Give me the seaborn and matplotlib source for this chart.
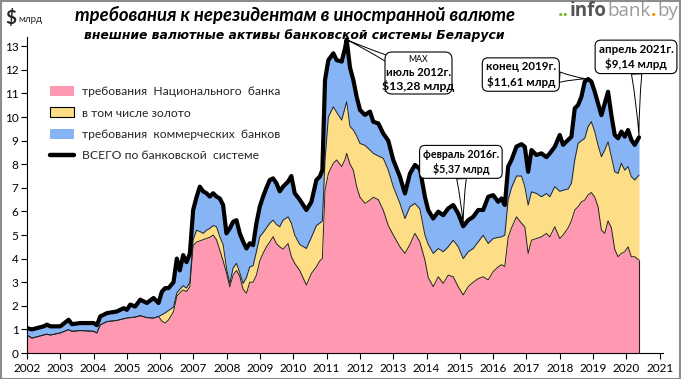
import numpy as np
import pandas as pd
import matplotlib
matplotlib.use("Agg")
import matplotlib.pyplot as plt
from matplotlib.patches import Patch, Rectangle, FancyBboxPatch
from matplotlib.lines import Line2D
from matplotlib.transforms import IdentityTransform
import seaborn as sns

# ---------------- data (x = position on the chart's year axis) ----------------
x_pos = [2002.0, 2002.15, 2002.5, 2002.6, 2002.7, 2003.0, 2003.25, 2003.35, 2003.6, 2004.0,
         2004.1, 2004.2, 2004.4, 2004.7, 2004.9, 2005.0, 2005.1, 2005.25, 2005.4, 2005.6,
         2005.8, 2005.95, 2006.05, 2006.15, 2006.25, 2006.4, 2006.5, 2006.59, 2006.69, 2006.79,
         2006.89, 2006.99, 2007.09, 2007.19, 2007.29, 2007.39, 2007.49, 2007.59, 2007.69, 2007.79,
         2007.89, 2007.99, 2008.09, 2008.19, 2008.29, 2008.39, 2008.49, 2008.59, 2008.69, 2008.79,
         2008.89, 2008.99, 2009.09, 2009.19, 2009.29, 2009.39, 2009.49, 2009.59, 2009.69, 2009.84,
         2009.94, 2010.04, 2010.19, 2010.39, 2010.54, 2010.69, 2010.79, 2010.87, 2010.95, 2011.05,
         2011.2, 2011.3, 2011.45, 2011.55, 2011.6, 2011.7, 2011.8, 2011.9, 2012.0, 2012.15,
         2012.3, 2012.4, 2012.55, 2012.7, 2012.85, 2013.0, 2013.2, 2013.35, 2013.5, 2013.65,
         2013.8, 2013.95, 2014.05, 2014.2, 2014.35, 2014.5, 2014.65, 2014.8, 2014.95, 2015.1,
         2015.25, 2015.4, 2015.55, 2015.7, 2015.85, 2016.0, 2016.15, 2016.25, 2016.35, 2016.45,
         2016.55, 2016.7, 2016.85, 2016.95, 2017.05, 2017.15, 2017.3, 2017.45, 2017.6, 2017.7,
         2017.85, 2018.0, 2018.1, 2018.25, 2018.35, 2018.45, 2018.55, 2018.65, 2018.75, 2018.85,
         2018.95, 2019.05, 2019.15, 2019.25, 2019.35, 2019.45, 2019.55, 2019.65, 2019.75, 2019.85,
         2019.95, 2020.05, 2020.15, 2020.25, 2020.38]

# claims of the National Bank excluding gold (pink)
nb_ex_gold = [0.76, 0.63, 0.76, 0.80, 0.76, 0.85, 0.99, 0.92, 0.95, 0.92,
              0.85, 1.19, 1.33, 1.38, 1.45, 1.48, 1.50, 1.52, 1.58, 1.50,
              1.48, 1.55, 1.35, 1.27, 1.40, 1.75, 2.40, 2.55, 2.67, 2.60,
              2.80, 4.55, 4.70, 4.75, 4.80, 4.85, 4.90, 5.00, 4.80, 4.36,
              3.90, 3.40, 2.80, 3.30, 3.50, 3.25, 2.70, 2.53, 3.00, 3.00,
              3.30, 3.90, 4.22, 4.50, 4.70, 4.93, 4.64, 4.50, 4.40, 4.64,
              4.08, 3.80, 3.50, 2.88, 3.37, 3.65, 3.90, 4.00, 6.90, 7.60,
              8.04, 8.18, 7.90, 8.20, 8.46, 8.00, 7.75, 7.05, 6.60, 6.34,
              6.48, 6.60, 6.50, 6.05, 5.40, 5.00, 4.50, 4.22, 4.60, 5.07,
              4.70, 3.94, 3.20, 2.81, 3.23, 2.95, 3.30, 3.23, 2.81, 2.46,
              2.81, 3.00, 3.15, 3.23, 3.10, 3.45, 3.65, 3.74, 3.67, 4.90,
              5.30, 5.77, 5.50, 5.35, 4.22, 4.78, 4.85, 4.92, 5.07, 4.92,
              5.35, 4.85, 5.00, 5.30, 5.60, 6.06, 6.20, 6.40, 6.48, 6.70,
              6.80, 6.60, 6.20, 5.21, 5.07, 5.60, 5.30, 4.40, 4.08, 4.22,
              4.29, 4.50, 4.08, 4.08, 3.94]

# claims of the National Bank including gold (top of yellow)
nb_total = [0.76, 0.63, 0.76, 0.80, 0.76, 0.85, 0.99, 0.92, 0.95, 0.92,
            0.85, 1.19, 1.33, 1.38, 1.45, 1.48, 1.50, 1.52, 1.58, 1.50,
            1.48, 1.55, 1.62, 1.70, 1.80, 1.95, 2.55, 2.70, 2.85, 2.75,
            3.00, 4.80, 5.20, 5.15, 5.07, 5.20, 5.28, 5.40, 5.35, 4.93,
            4.60, 3.60, 2.95, 3.60, 3.80, 3.40, 2.95, 3.20, 3.65, 3.70,
            4.30, 4.93, 5.10, 5.30, 5.50, 5.63, 5.45, 5.35, 5.63, 5.77,
            5.50, 5.00, 4.60, 4.43, 4.90, 5.40, 5.50, 5.60, 8.18, 10.00,
            10.43, 10.20, 9.87, 10.40, 10.65, 9.60, 9.45, 9.20, 8.88, 8.80,
            8.60, 8.46, 8.35, 8.25, 7.75, 7.05, 6.34, 5.70, 6.20, 6.34,
            6.10, 5.00, 4.60, 4.22, 4.43, 4.29, 4.50, 4.78, 4.50, 4.00,
            4.29, 4.43, 4.71, 4.99, 4.64, 4.85, 4.90, 4.92, 5.00, 6.50,
            7.00, 7.50, 7.50, 7.05, 6.27, 6.83, 6.76, 6.62, 6.76, 6.62,
            7.05, 6.85, 6.90, 6.95, 7.20, 8.18, 8.88, 9.00, 9.10, 9.59,
            9.80, 9.38, 8.80, 8.32, 8.60, 8.95, 8.32, 7.68, 7.61, 8.04,
            7.75, 7.90, 7.47, 7.33, 7.54]

# total for the banking system (black line)
system_total = [1.05, 1.00, 1.13, 1.20, 1.13, 1.13, 1.41, 1.22, 1.27, 1.27,
                1.18, 1.55, 1.69, 1.76, 1.90, 1.83, 2.05, 1.97, 2.26, 2.12,
                2.33, 2.12, 2.60, 2.75, 2.75, 3.00, 4.00, 3.50, 4.15, 3.85,
                4.20, 6.06, 6.60, 7.05, 6.85, 6.77, 6.63, 6.77, 6.63, 6.55,
                6.27, 5.07, 5.28, 5.56, 5.63, 5.07, 4.72, 4.43, 4.65, 4.57,
                5.50, 6.20, 6.63, 7.00, 7.33, 7.40, 7.20, 6.85, 7.05, 7.26,
                7.50, 6.77, 6.50, 6.06, 6.40, 7.33, 7.47, 7.75, 11.57, 12.41,
                12.70, 12.41, 12.35, 12.91, 13.28, 12.10, 11.57, 10.86, 10.30, 10.09,
                10.23, 9.80, 9.73, 9.30, 9.00, 8.18, 7.47, 6.76, 7.60, 7.97,
                7.80, 6.62, 6.05, 5.70, 5.99, 5.84, 6.13, 6.27, 5.91, 5.37,
                5.63, 5.77, 6.06, 6.06, 6.62, 6.69, 6.41, 6.55, 6.27, 7.90,
                8.18, 8.75, 8.85, 8.74, 7.68, 8.60, 8.39, 8.46, 8.30, 8.46,
                8.74, 9.24, 8.82, 9.03, 9.17, 10.37, 10.51, 10.86, 11.50, 11.61,
                11.50, 11.07, 10.57, 10.08, 10.57, 11.07, 10.08, 9.24, 9.10, 9.38,
                9.17, 9.45, 9.03, 8.82, 9.14]

year_ticks = list(range(2002, 2022))
value_ticks = list(range(0, 14))

legend_labels = ["требования  Национального  банка", "в том числе золото",
                 "требования  коммерческих  банков", "ВСЕГО по банковской  системе"]

callouts = [
    ("max", ["МАХ", "июль 2012г.", "$13,28 млрд"]),
    ("end2019", ["конец 2019г.", "$11,61 млрд"]),
    ("min", ["февраль 2016г.", "$5,37 млрд"]),
    ("last", ["апрель 2021г.", "$9,14 млрд"]),
]

df = pd.DataFrame({"x": x_pos, "nb_ex_gold": nb_ex_gold,
                   "nb_total": nb_total, "total": system_total})

# ---------------- style ----------------
sns.set_theme(style="ticks")
plt.rcParams["font.family"] = ["Lato", "DejaVu Sans"]
plt.rcParams["axes.linewidth"] = 0.8

PINK = "#FF99B1"
YELLOW = "#FDDD86"
BLUE = "#87B4F4"

W, H = 681, 379
fig = plt.figure(figsize=(W / 100, H / 100), dpi=100)
fig.patch.set_facecolor("white")
renderer = fig.canvas.get_renderer()

x0_px, x1_px = 27, 663
y_bot_px, y_top_px = 353, 36.8
ax = fig.add_axes([x0_px / W, 1 - y_bot_px / H, (x1_px - x0_px) / W, (y_bot_px - y_top_px) / H])

xs = df["x"].to_numpy()
p = df["nb_ex_gold"].to_numpy()
n = df["nb_total"].to_numpy()
t = df["total"].to_numpy()

ax.fill_between(xs, 0, p, color=PINK, lw=0, zorder=1)
ax.fill_between(xs, p, n, color=YELLOW, lw=0, zorder=1)
ax.fill_between(xs, n, t, color=BLUE, lw=0, zorder=1)
ax.plot(xs, p, color="#222222", lw=0.7, zorder=2)
ax.plot(xs, n, color="#222222", lw=0.7, zorder=2)
ax.vlines(xs[-1], 0, p[-1], color="#222222", lw=0.8, zorder=2)
sns.lineplot(data=df, x="x", y="total", ax=ax, color="black", lw=3.0,
             zorder=3, estimator=None, sort=False)

ax.set_xlim(2002, 2021.1)
ax.set_ylim(0, 13.4)
ax.set_xticks(year_ticks)
ax.set_xticklabels([str(y) for y in year_ticks])
ax.set_yticks(value_ticks)
ax.set_xlabel("")
ax.set_ylabel("")
ax.tick_params(axis="x", direction="out", length=4, width=0.8, labelsize=8.5,
               pad=3, colors="black")
ax.tick_params(axis="y", direction="out", length=4, width=0.8, labelsize=8.5,
               pad=2, colors="black")
for lab in ax.get_xticklabels() + ax.get_yticklabels():
    lab.set_color("black")
for s in ["top", "right"]:
    ax.spines[s].set_visible(False)
for s in ["left", "bottom"]:
    ax.spines[s].set_color("black")

# ---------------- legend ----------------
handles = [Patch(facecolor=PINK, edgecolor="none"),
           Patch(facecolor=YELLOW, edgecolor="black", lw=0.8),
           Patch(facecolor=BLUE, edgecolor="none"),
           Line2D([0], [0], color="black", lw=3.2)]
leg = ax.legend(handles, legend_labels, loc="upper left",
                bbox_to_anchor=(0.028, 0.86), frameon=False, fontsize=8.7,
                handlelength=2.0, handleheight=0.9, handletextpad=0.65,
                labelspacing=0.85, borderaxespad=0)

# ---------------- callouts ----------------
imax = int(np.argmax(t))
i2019 = int(np.argmax(np.where(xs > 2017, t, 0)))
imin = int(np.argmin(np.where((xs > 2014) & (xs < 2016), t, 99)))
ilast = len(t) - 1
targets = {"max": (xs[imax], t[imax]), "end2019": (xs[i2019], t[i2019]),
           "min": (xs[imin], t[imin]), "last": (xs[ilast], t[ilast])}
box_pos = {"max": (2013.74, 11.86), "end2019": (2016.83, 11.80),
           "min": (2015.03, 8.10), "last": (2020.29, 12.55)}
box_fs = {"end2019": 8.3, "min": 7.7, "last": 8.3}
wedge = dict(arrowstyle="wedge,tail_width=0.9,shrink_factor=0.35",
             fc="white", ec="black", lw=0.7, shrinkA=0, shrinkB=1)
for key, lines in callouts:
    if key == "max":
        # pointer only; box drawn as a separate rounded patch, lines overlaid
        ax.annotate("", xy=targets[key], xytext=box_pos[key],
                    arrowprops=wedge, zorder=5, annotation_clip=False)
        bx0, by0, bw, bh = 385, H - 94, 67, 42  # box in pixels (display coords)
        fig.patches.append(FancyBboxPatch((bx0, by0), bw, bh,
                                          boxstyle="round,pad=0,rounding_size=7",
                                          transform=IdentityTransform(),
                                          fc="white", ec="black", lw=0.8, zorder=5))
        cx = bx0 + bw / 2
        specs = [(H - 60, 6.3, "normal"), (H - 73, 8.2, "bold"), (H - 86, 8.8, "bold")]
        for line, (py, fs, wt) in zip(lines, specs):
            fig.text(cx / W, py / H, line, ha="center", va="center", fontsize=fs,
                     fontweight=wt, color="black", zorder=8)
    else:
        ax.annotate("\n".join(lines), xy=targets[key], xytext=box_pos[key],
                    ha="center", va="center", fontsize=box_fs[key], fontweight="bold",
                    linespacing=1.35, color="black", zorder=6,
                    bbox=dict(boxstyle="round,pad=0.3,rounding_size=0.5",
                              fc="white", ec="black", lw=0.8),
                    arrowprops=wedge, annotation_clip=False)


# ---------------- titles ----------------
def fitted_text(cx_px, cy_px, text, target_w, **kw):
    tx = fig.text(cx_px / W, 1 - cy_px / H, text, ha="center", va="center", **kw)
    w = tx.get_window_extent(renderer=renderer).width
    tx.set_fontsize(tx.get_fontsize() * target_w / w)
    return tx


fitted_text(295, 15, "требования к нерезидентам в иностранной валюте", 440,
            fontsize=13, fontweight="bold", style="italic", color="black")
fitted_text(294, 36, "внешние валютные активы банковской системы Беларуси", 420,
            fontsize=10, fontweight="bold", style="italic", color="black",
            family=["DejaVu Sans"])
fig.text(5 / W, 1 - 18 / H, "$", ha="left", va="center", fontsize=13.5, fontweight="bold")
fig.text(18 / W, 1 - 19 / H, "млрд", ha="left", va="center", fontsize=7)

# logo
xcur = 558 / W
for piece, col, wt in [("..", "#7DBA2F", "bold"), ("info", "#555555", "bold"),
                       ("bank", "#9A9A9A", "normal"), (".", "#F39200", "bold"),
                       ("by", "#9A9A9A", "normal")]:
    tx = fig.text(xcur, 1 - 11 / H, piece, ha="left", va="center", fontsize=13.5,
                  color=col, fontweight=wt, family=["Open Sans", "DejaVu Sans"])
    bb = tx.get_window_extent(renderer=renderer)
    xcur += bb.width / W + 0.6 / W

# figure border
fig.patches.append(Rectangle((0.5 / W, 0.5 / H), 1 - 1.5 / W, 1 - 1.5 / H,
                             transform=fig.transFigure, fill=False,
                             ec="#8C8C8C", lw=1.5))

fig.savefig("out.png", dpi=100, facecolor="white")
